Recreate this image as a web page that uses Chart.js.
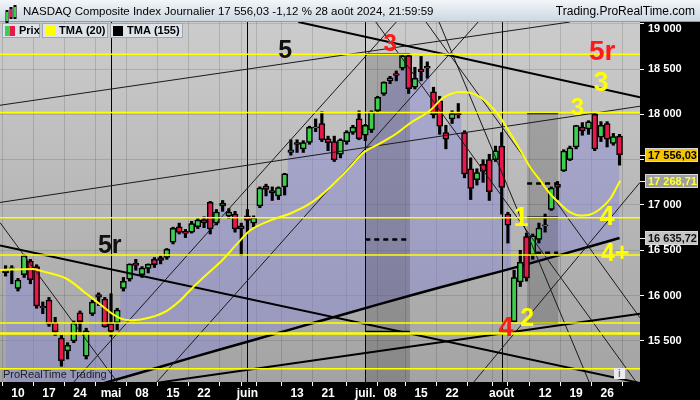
<!DOCTYPE html>
<html>
<head>
<meta charset="utf-8">
<script src="https://cdn.jsdelivr.net/npm/chart.js@4.4.1/dist/chart.umd.min.js"></script>
<style>
  html, body { margin: 0; padding: 0; background: #000; }
  #c { display: block; }
</style>
</head>
<body>
<canvas id="c" width="700" height="400"></canvas>
<script>
// ============ données ============
// un index par séance, du 8 avril au 28 août 2024
const opens  = [16290,16300,16080,16230,16380,16320,15880,15950,15700,15530,15390,15500,15810,15330,15800,16010,15960,15690,15700,16080,
                16180,16360,16230,16300,16400,16420,16420,16590,16760,16710,16700,16760,16840,17030,16800,16990,16880,16900,16770,16880,
                16800,16990,17210,17160,17100,17200,17580,17690,17620,17690,17850,17900,17730,17700,17560,17700,17800,17950,17770,17830,
                18040,18230,18370,18450,18510,18650,18300,18500,18530,18250,18150,17800,17950,18010,17800,17400,17280,17450,17500,17500,
                17650,16900,15712,16150,16650,16450,16620,16770,16950,17230,17380,17500,17640,17860,17840,18000,17750,17900,17680,17760];
const highs  = [16330,16330,16190,16455,16400,16340,15930,15980,15760,15560,15480,15720,15830,15640,15950,16030,15980,16020,15860,16200,
                16350,16400,16320,16350,16420,16440,16520,16755,16800,16730,16820,16850,16870,17040,16950,17050,16960,16930,16800,16950,
                16880,17200,17230,17200,17200,17350,17720,17720,17710,17870,17950,18030,17760,17760,17730,17820,17880,18040,17890,18040,
                18200,18360,18420,18480,18650,18670,18520,18640,18580,18300,18200,17880,18040,18120,17820,17520,17400,17500,17560,17650,
                17800,16920,16280,16500,16690,16680,16800,16900,17200,17260,17610,17650,17880,17910,17930,18020,17920,17920,17790,17780];
const lows   = [16215,16130,16050,16200,16130,15860,15800,15660,15560,15220,15300,15480,15600,15300,15780,15890,15650,15550,15620,16050,
                16160,16280,16200,16250,16310,16350,16400,16570,16680,16640,16690,16740,16750,16680,16780,16930,16850,16700,16440,16700,
                16760,16970,17100,17050,17060,17110,17550,17580,17580,17670,17810,17700,17600,17480,17520,17670,17780,17720,17710,17800,
                18020,18210,18340,18370,18490,18230,18280,18370,18400,17960,17780,17620,17900,17960,17300,17060,17220,17250,17050,17480,
                16900,16580,15708,16100,16160,16400,16580,16700,16940,17060,17370,17490,17620,17770,17780,17600,17700,17640,17660,17440];
const closes = [16254,16307,16170,16442,16175,15885,15865,15683,15601,15282,15451,15697,15712,15611,15928,15983,15658,15605,15841,16156,
                16349,16333,16303,16346,16341,16388,16511,16742,16698,16686,16795,16833,16802,16736,16921,17020,16921,16737,16735,16829,
                16857,17188,17173,17133,17193,17344,17608,17668,17689,17857,17862,17722,17689,17497,17718,17805,17859,17733,17879,18029,
                18188,18353,18404,18429,18647,18283,18398,18473,18509,17997,17871,17727,18008,17997,17342,17182,17358,17370,17147,17599,
                17194,16776,16200,16367,16196,16660,16745,16781,17188,17193,17595,17632,17877,17817,17919,17619,17878,17726,17755,17556.03];

const tma20Idx = [-0.9,4.4,6.0,9.9,13.1,15.2,17.3,18.9,20.5,23.3,26.0,28.1,30.2,32.5,34.6,37.8,39.4,42.6,45.9,49.1,52.3,55.5,57.6,
                  60.4,63.1,65.2,68.5,70.5,73.3,74.9,76.5,78.1,79.7,81.4,83.0,84.6,86.2,87.8,89.4,91.0,92.6,94.3,95.9,97.5,99.1];
const tma20Val = [16283,16294,16267,16183,16017,15906,15796,15740,15729,15758,15832,15943,16090,16238,16367,16607,16718,16828,16906,
                  17017,17194,17415,17570,17681,17792,17902,18046,18179,18246,18238,18194,18102,17972,17788,17603,17419,17271,17124,
                  17013,16920,16884,16895,16958,17069,17268.71];

// TMA (155)
const tma155Idx = [0,10,20,30,40,50,60,70,80,90,99];
const tma155Val = [14730,14920,15115,15315,15510,15705,15900,16090,16270,16460,16635.72];

// lignes horizontales jaunes
const yellowLevels = [18663,18021,16858,16449,15696,15581,15193];
const yellowThick  = [15581];

// droites tracées : [index début, prix début, index fin, prix fin]
const thickLines = [[47.2,19020,102.3,18190],[-0.9,16552,102.3,15035],[15.2,14947,102.3,15799]];
const thinLines  = [[-0.9,18101,91.0,19020],[-0.9,17028,102.3,18090],[11.0,15046,63.0,19020],[24.4,15046,76.2,19020],
                    [75.5,15046,102.3,17249],[-0.9,16806,18.1,15035],[67.8,19020,102.3,15755],[69.9,19020,94.1,15046],
                    [59.7,19020,101.8,15035]];

// zones (rectangles) et leurs niveaux
const boxFrom = [58, 84.1];
const boxTo   = [65.2, 89.1];
const boxTop  = [18666, 18013];
const boxBot  = [15046, 15696];
const boxSolid  = [[18666,15600],[18013,16862,15696]];
const boxDashed = [[16618],[17238,16474]];

// annotations
const noteText  = ['5','3','5r','3','3','1','4','4+','2','4','5r'];
const noteIdx   = [45.1,62.0,96.2,96.0,92.2,83.1,97.0,98.3,84.1,80.7,16.8];
const notePrice = [18699,18777,18688,18345,18068,16851,16862,16463,15744,15633,16541];

// axes
const xTickIdx = [2,7,12,17,22,27,32,37,39,42,47,52,58,62,67,72,77,80,82,87,92,97,102];
const xTickLbl = ['10','17','24','mai','08','15','22','','juin','','13','21','juil.','08','15','22','','août','','12','19','26',''];
const monthIdx = [17,39,58,80];
const yTickVal = [15500,16000,16500,17000,17500,18000,18500,19000];
const yTickLbl = ['15 500','16 000','16 500','17 000','','18 000','18 500','19 000'];

// étiquettes de l'axe des prix
const tagVal = [17556.03, 17268.71, 16635.72];
const tagLbl = ['17 556,03','17 268,71','16 635,72'];

// ============ styles ============
const FONT = '"Liberation Sans", Arial, sans-serif';
const upCol = '#3dcf4c';
const dnCol = '#e8184a';
const noteColor = ['#111','#ff1a1a','#ff1a1a','#ffff00','#ffff00','#ffff00','#ffff00','#ffff00','#ffff00','#ff1a1a','#111'];
const noteSize  = [25,24,28,27,24,27,27,25,25,27,25];
const tagBg   = ['#f5c400','#9e9e9e','#c4c4c4'];
const tagFg   = ['#000','#ffff3a','#111'];
const yTop = yTickVal[yTickVal.length - 1];

const idx = closes.map((_, i) => i);

const datasets = [];
// zone lavande entre le cours et la TMA 155
datasets.push({
  type: 'line', data: idx.map(i => ({ x: i, y: closes[i] })), stepped: 'middle',
  borderWidth: 0, pointRadius: 0,
  fill: { target: 1, above: 'rgba(135,135,215,0.45)', below: 'rgba(0,0,0,0)' }, order: 20,
});
datasets.push({
  type: 'line', data: tma155Idx.map((v, k) => ({ x: v, y: tma155Val[k] })),
  borderColor: '#000', borderWidth: 2.5, pointRadius: 0, tension: 0.4, fill: false, order: 9,
});
for (const lv of yellowLevels) {
  datasets.push({
    type: 'line', data: [{ x: -0.9, y: lv }, { x: 102.3, y: lv }],
    borderColor: '#ffff00', borderWidth: yellowThick.includes(lv) ? 2.5 : 1.5, pointRadius: 0, order: 2,
  });
}
for (const l of thickLines) {
  datasets.push({
    type: 'line', data: [{ x: l[0], y: l[1] }, { x: l[2], y: l[3] }],
    borderColor: '#000', borderWidth: 2, pointRadius: 0, order: 2,
  });
}
for (const l of thinLines) {
  datasets.push({
    type: 'line', data: [{ x: l[0], y: l[1] }, { x: l[2], y: l[3] }],
    borderColor: '#1a1a1a', borderWidth: 1, pointRadius: 0, order: 2,
  });
}
// mèches
datasets.push({
  type: 'bar', data: idx.map(i => ({ x: i, y: [lows[i], highs[i]] })),
  backgroundColor: '#000', barThickness: 2.5, grouped: false, order: 6,
});
// corps
datasets.push({
  type: 'bar', data: idx.map(i => ({ x: i, y: [opens[i], closes[i]] })),
  backgroundColor: idx.map(i => closes[i] >= opens[i] ? upCol : dnCol),
  borderColor: '#000', borderWidth: 1.5, borderSkipped: false, barThickness: 6, grouped: false, order: 5,
});
// TMA 20
datasets.push({
  type: 'line', data: tma20Idx.map((v, k) => ({ x: v, y: tma20Val[k] })),
  borderColor: '#ffff00', borderWidth: 2, pointRadius: 0, tension: 0.4, cubicInterpolationMode: 'monotone', order: 1,
});

// ============ décor ProRealTime ============
const decor = {
  id: 'decor',
  beforeDraw(chart) {
    const { ctx, chartArea: a, width, height } = chart;
    ctx.save();
    let g = ctx.createLinearGradient(0, a.top, 0, a.bottom);
    g.addColorStop(0, '#cccccc');
    g.addColorStop(1, '#a3a3a3');
    ctx.fillStyle = g;
    ctx.fillRect(a.left, a.top, a.right - a.left, a.bottom - a.top);
    ctx.fillStyle = '#000';
    ctx.fillRect(a.right, a.top, width - a.right, height - a.top);
    ctx.fillRect(0, a.bottom, width, height - a.bottom);
    ctx.restore();
  },
  afterDatasetDraw(chart, args) {
    if (args.index !== 0) return;
    const { ctx, chartArea: a, scales: { x, y } } = chart;
    ctx.save();
    ctx.beginPath();
    ctx.rect(a.left, a.top, a.right - a.left, a.bottom - a.top);
    ctx.clip();
    // zones assombries
    boxFrom.forEach((f, k) => {
      const x0 = x.getPixelForValue(f), x1 = x.getPixelForValue(boxTo[k]);
      const y0 = y.getPixelForValue(boxTop[k]), y1 = y.getPixelForValue(boxBot[k]);
      ctx.fillStyle = 'rgba(0,0,0,0.17)';
      ctx.fillRect(x0, y0, x1 - x0, y1 - y0);
      ctx.strokeStyle = '#000';
      ctx.lineWidth = 2;
      ctx.setLineDash([]);
      for (const v of boxSolid[k]) {
        const yy = y.getPixelForValue(v);
        ctx.beginPath(); ctx.moveTo(x0, yy); ctx.lineTo(x1, yy); ctx.stroke();
      }
      ctx.lineWidth = 2.5;
      ctx.setLineDash([5, 4]);
      for (const v of boxDashed[k]) {
        const yy = y.getPixelForValue(v);
        ctx.beginPath(); ctx.moveTo(x0, yy); ctx.lineTo(x1, yy); ctx.stroke();
      }
    });
    ctx.setLineDash([]);
    // séparateurs de mois
    ctx.strokeStyle = '#000';
    ctx.lineWidth = 1;
    for (const m of monthIdx) {
      const xx = Math.round(x.getPixelForValue(m)) + 0.5;
      ctx.beginPath(); ctx.moveTo(xx, a.top); ctx.lineTo(xx, a.bottom); ctx.stroke();
    }
    ctx.restore();
  },
  afterDraw(chart) {
    const { ctx, chartArea: a, scales: { x, y }, width } = chart;
    ctx.save();
    // annotations
    ctx.textAlign = 'center';
    ctx.textBaseline = 'middle';
    noteText.forEach((t, k) => {
      ctx.font = 'bold ' + noteSize[k] + 'px ' + FONT;
      ctx.fillStyle = noteColor[k];
      ctx.fillText(t, x.getPixelForValue(noteIdx[k]), y.getPixelForValue(notePrice[k]));
    });
    // étiquette du haut de l'axe des prix (décalée sous l'en-tête)
    ctx.textAlign = 'left';
    ctx.font = 'bold 11px ' + FONT;
    ctx.fillStyle = '#fff';
    ctx.fillText(yTickLbl[yTickLbl.length - 1], a.right + 8, y.getPixelForValue(yTop) + 5);
    // étiquettes de prix
    tagVal.forEach((v, k) => {
      const yy = Math.round(y.getPixelForValue(v));
      ctx.fillStyle = tagBg[k];
      ctx.fillRect(a.right + 5, yy - 7, 53, 14);
      ctx.strokeStyle = '#d8d8d8';
      ctx.lineWidth = 1;
      ctx.strokeRect(a.right + 5.5, yy - 6.5, 52, 13);
      ctx.fillStyle = '#fff';
      ctx.fillRect(a.right, yy, 5, 1);
      ctx.fillStyle = tagFg[k];
      ctx.fillText(tagLbl[k], a.right + 8, yy + 1);
    });
    // légende
    const items = [['Prix', 2, 40], ['TMA (20)', 42, 108], ['TMA (155)', 110, 183]];
    const sw = [[upCol, dnCol], ['#ffff00', '#ffff00'], ['#000', '#000']];
    items.forEach((it, k) => {
      ctx.fillStyle = '#dde3e9';
      ctx.fillRect(it[1], a.top + 1, it[2] - it[1], 15);
      ctx.strokeStyle = '#9aa6b3';
      ctx.strokeRect(it[1] + 0.5, a.top + 1.5, it[2] - it[1] - 1, 14);
      ctx.fillStyle = sw[k][0];
      ctx.fillRect(it[1] + 3, a.top + 4, 5, 10);
      ctx.fillStyle = sw[k][1];
      ctx.fillRect(it[1] + 8, a.top + 4, 5, 10);
      ctx.fillStyle = '#000';
      ctx.font = 'bold 11px ' + FONT;
      ctx.fillText(it[0], it[1] + 17, a.top + 9);
    });
    // en-tête
    let g = ctx.createLinearGradient(0, 0, 0, a.top);
    g.addColorStop(0, '#f2f6f9');
    g.addColorStop(1, '#cbd6e1');
    ctx.fillStyle = g;
    ctx.fillRect(0, 0, width, a.top - 1);
    ctx.fillStyle = '#8c9cae';
    ctx.fillRect(0, a.top - 1, width, 1);
    ctx.font = '11.5px ' + FONT;
    ctx.fillStyle = '#000';
    ctx.fillText('NASDAQ Composite Index Journalier 17 556,03 -1,12 % 28 août 2024, 21:59:59', 23, 12);
    ctx.textAlign = 'right';
    ctx.font = '12px ' + FONT;
    ctx.fillText('Trading.ProRealTime.com', width - 5, 12);
    const ic = [[6, 8, 9, upCol], [10, 5, 8, dnCol], [14, 3, 10, upCol]];
    for (const c of ic) {
      ctx.fillStyle = '#000';
      ctx.fillRect(c[0] - 0.5, c[1] + 2, 3, c[2] + 4);
      ctx.fillStyle = c[3];
      ctx.fillRect(c[0], c[1] + 4, 2, c[2]);
    }
    // texte et icône en bas
    ctx.textAlign = 'left';
    ctx.font = '11px ' + FONT;
    ctx.fillStyle = '#222';
    ctx.fillText('ProRealTime Trading', 3, a.bottom - 7);
    ctx.fillStyle = '#ececec';
    ctx.fillRect(a.right - 26, a.bottom - 14, 11, 11);
    ctx.fillStyle = '#777';
    ctx.font = 'bold 10px ' + FONT;
    ctx.textAlign = 'center';
    ctx.fillText('i', a.right - 20.5, a.bottom - 8);
    ctx.restore();
  },
};

new Chart(document.getElementById('c').getContext('2d'), {
  type: 'bar',
  data: { datasets },
  options: {
    responsive: false,
    animation: false,
    events: [],
    layout: { padding: { top: 22, left: 0, right: 0, bottom: 0 } },
    plugins: { legend: { display: false }, tooltip: { enabled: false } },
    scales: {
      x: {
        type: 'linear', min: -0.9, max: 102.3, offset: false,
        afterBuildTicks: s => { s.ticks = xTickIdx.map(v => ({ value: v })); },
        afterFit: s => { s.height = 18; },
        border: { display: false },
        grid: { color: 'rgba(0,0,0,0.13)', tickColor: '#fff', tickLength: 4 },
        ticks: {
          color: '#fff', padding: 0, maxRotation: 0, autoSkip: false,
          font: { family: FONT, size: 12, weight: 'bold' },
          callback: v => xTickLbl[xTickIdx.indexOf(v)],
        },
      },
      y: {
        position: 'right', min: 15046, max: 19020,
        afterBuildTicks: s => { s.ticks = yTickVal.map(v => ({ value: v })); },
        afterFit: s => { s.width = 60; },
        border: { display: false },
        grid: { color: 'rgba(0,0,0,0.12)', tickColor: '#fff', tickLength: 4 },
        ticks: {
          color: '#fff', padding: 4,
          font: { family: FONT, size: 11, weight: 'bold' },
          callback: v => v === yTop ? '' : yTickLbl[yTickVal.indexOf(v)],
        },
      },
    },
  },
  plugins: [decor],
});
</script>
</body>
</html>
